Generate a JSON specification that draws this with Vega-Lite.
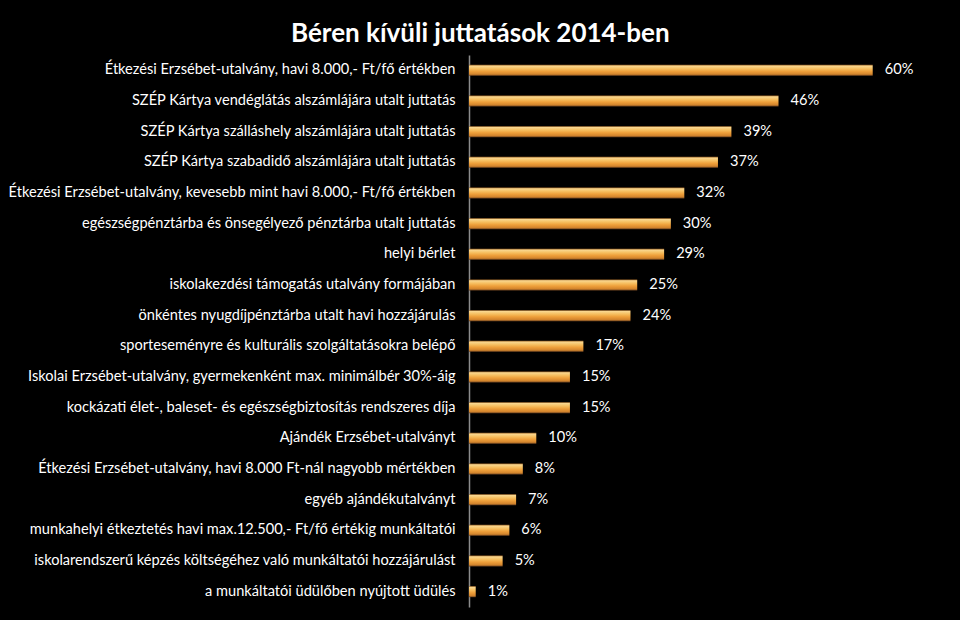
{
  "$schema": "https://vega.github.io/schema/vega-lite/v6.json",
  "autosize": {"type": "none"},
  "width": 471,
  "height": 552,
  "padding": {"left": 469, "top": 55, "right": 20, "bottom": 13},
  "background": "#000000",
  "title": {
    "text": "Béren kívüli juttatások 2014-ben",
    "anchor": "start",
    "frame": "group",
    "dx": -178,
    "offset": 8,
    "font": "Lato",
    "fontSize": 26,
    "fontWeight": "bold",
    "color": "#ffffff"
  },
  "data": {
    "values": [
      {"juttatas": "Étkezési Erzsébet-utalvány, havi 8.000,- Ft/fő értékben", "arany": 0.60},
      {"juttatas": "SZÉP Kártya vendéglátás alszámlájára utalt juttatás", "arany": 0.46},
      {"juttatas": "SZÉP Kártya szálláshely alszámlájára utalt juttatás", "arany": 0.39},
      {"juttatas": "SZÉP Kártya szabadidő alszámlájára utalt juttatás", "arany": 0.37},
      {"juttatas": "Étkezési Erzsébet-utalvány, kevesebb mint havi 8.000,- Ft/fő értékben", "arany": 0.32},
      {"juttatas": "egészségpénztárba és önsegélyező pénztárba utalt juttatás", "arany": 0.30},
      {"juttatas": "helyi bérlet", "arany": 0.29},
      {"juttatas": "iskolakezdési támogatás utalvány formájában", "arany": 0.25},
      {"juttatas": "önkéntes nyugdíjpénztárba utalt havi hozzájárulás", "arany": 0.24},
      {"juttatas": "sporteseményre és kulturális szolgáltatásokra belépő", "arany": 0.17},
      {"juttatas": "Iskolai Erzsébet-utalvány, gyermekenként max. minimálbér 30%-áig", "arany": 0.15},
      {"juttatas": "kockázati élet-, baleset- és egészségbiztosítás rendszeres díja", "arany": 0.15},
      {"juttatas": "Ajándék Erzsébet-utalványt", "arany": 0.10},
      {"juttatas": "Étkezési Erzsébet-utalvány, havi 8.000 Ft-nál nagyobb mértékben", "arany": 0.08},
      {"juttatas": "egyéb ajándékutalványt", "arany": 0.07},
      {"juttatas": "munkahelyi étkeztetés havi max.12.500,- Ft/fő értékig munkáltatói", "arany": 0.06},
      {"juttatas": "iskolarendszerű képzés költségéhez való munkáltatói hozzájárulást", "arany": 0.05},
      {"juttatas": "a munkáltatói üdülőben nyújtott üdülés", "arany": 0.01}
    ]
  },
  "encoding": {
    "y": {
      "field": "juttatas",
      "type": "nominal",
      "sort": null,
      "title": null,
      "scale": {"paddingInner": 0.64, "paddingOuter": 0.32},
      "axis": {
        "domain": true,
        "domainColor": "#8c8c8c",
        "domainWidth": 1.5,
        "ticks": false,
        "labelColor": "#ffffff",
        "labelFont": "Lato",
        "labelFontSize": 14.6,
        "labelPadding": 14,
        "labelLimit": 0,
        "grid": false
      }
    },
    "x": {
      "field": "arany",
      "type": "quantitative",
      "scale": {"domain": [0, 0.7], "nice": false},
      "axis": null
    }
  },
  "layer": [
    {
      "mark": {
        "type": "bar",
        "color": {
          "gradient": "linear",
          "x1": 0, "y1": 0, "x2": 0, "y2": 1,
          "stops": [
            {"offset": 0, "color": "#9a6326"},
            {"offset": 0.12, "color": "#f9d68e"},
            {"offset": 0.35, "color": "#f6bf60"},
            {"offset": 0.6, "color": "#ee9f3a"},
            {"offset": 0.85, "color": "#d3852d"},
            {"offset": 1, "color": "#6e4420"}
          ]
        }
      }
    },
    {
      "mark": {
        "type": "text",
        "align": "left",
        "baseline": "middle",
        "dx": 12,
        "font": "Lato",
        "fontSize": 14.6,
        "color": "#ffffff"
      },
      "encoding": {
        "text": {"field": "arany", "type": "quantitative", "format": ".0%"}
      }
    }
  ],
  "config": {
    "view": {"stroke": null}
  }
}
